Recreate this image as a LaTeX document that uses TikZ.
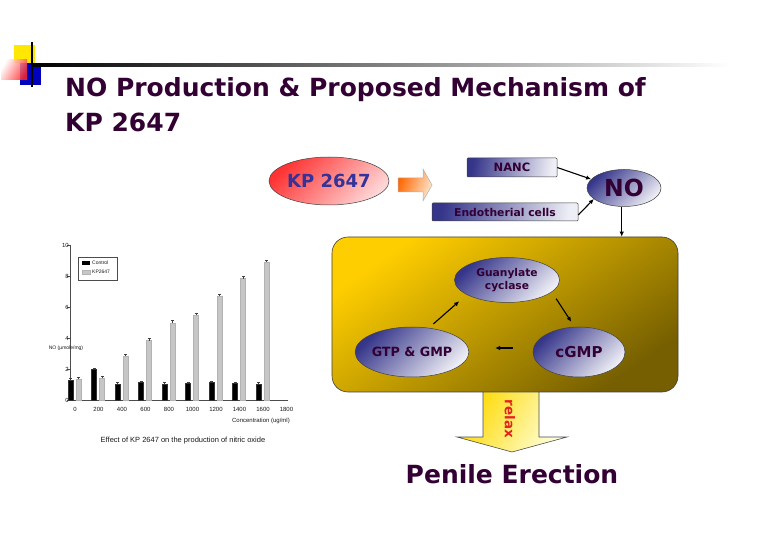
\documentclass[tikz,border=0pt]{standalone}
\usepackage{fontspec}
\setmainfont{DejaVu Sans}
\newfontfamily\chartfont{Liberation Sans}
\usepackage{xcolor}
\usetikzlibrary{arrows.meta,positioning,shapes.geometric}

\definecolor{titlepurple}{HTML}{330033}
\definecolor{kpblue}{HTML}{333399}
\definecolor{kpred}{HTML}{FF3333}
\definecolor{kppink}{HTML}{FFD6D6}
\definecolor{navy}{HTML}{35358A}
\definecolor{lavender}{HTML}{EEEEF6}
\definecolor{gold}{HTML}{FFCE00}
\definecolor{olive}{HTML}{765F00}
\definecolor{relaxred}{HTML}{E3241E}

\begin{document}
\begin{tikzpicture}[x=1pt,y=-1pt,
    title/.style={anchor=base west,inner sep=0pt,font=\bfseries\fontsize{25}{30}\selectfont,text=titlepurple},
    oval/.style={ellipse,draw=gray!50!black,line width=0.5pt,inner sep=0pt,left color=navy,right color=lavender,shading angle=45,text=titlepurple,align=center},
    label box/.style={rectangle,rounded corners=1pt,draw=gray!50!black,line width=0.5pt,inner sep=0pt,left color=navy,right color=lavender,shading angle=80,text=titlepurple,font=\bfseries\fontsize{10.8}{12}\selectfont},
    cellbox/.style={rectangle,rounded corners=16pt,draw=black!75,line width=0.6pt,minimum width=346pt,minimum height=155pt,left color=gold,middle color=gold!75!olive,right color=olive,shading angle=35},
    arrow/.style={-{Latex[length=5pt,width=4.5pt]},line width=1.1pt},
    charttext/.style={font=\chartfont\fontsize{6}{7}\selectfont,text=gray!20!black,inner sep=1pt}
]
    \useasboundingbox (0,0) rectangle (780,540);
    \fill[white] (0,0) rectangle (780,540);

    % Corner mark and rule
    \fill[yellow!90!orange] (14,45) rectangle (35,63);
    \fill[blue!75!black] (20,63) rectangle (41,85);
    \shade[left color=white,right color=red!85,shading angle=60,opacity=0.85] (1,60) rectangle (27,80);
    \shade[left color=black,right color=white] (32,63.5) rectangle (730,66.5);
    \draw[line width=1.2pt] (32,42) -- (32,87);

    % Title
    \node[title] (title1) at (65,97) {NO Production \& Proposed Mechanism of};
    \node[title] (title2) at (65,132) {KP 2647};

    % Nodes
    \node[oval,minimum width=120pt,minimum height=48pt,left color=kpred,right color=kppink,shading angle=45,text=kpblue,font=\bfseries\fontsize{18}{20}\selectfont] (kp) at (329,181) {KP 2647};
    \node[label box,minimum width=90pt,minimum height=19pt,font=\bfseries\fontsize{11.5}{13}\selectfont] (nanc) at (512,167.5) {NANC};
    \node[label box,minimum width=146pt,minimum height=18pt] (endo) at (505,212) {Endotherial cells};
    \node[oval,minimum width=74pt,minimum height=37pt,font=\bfseries\fontsize{23.5}{25}\selectfont] (no) at (624,188) {NO};

    \node[cellbox] (cell) at (505,314.5) {};
    \node[oval,minimum width=105pt,minimum height=45pt,font=\bfseries\fontsize{10.7}{12.5}\selectfont] (guan) at (507,280) {Guanylate\\cyclase};
    \node[oval,minimum width=90pt,minimum height=50pt,font=\bfseries\fontsize{12.7}{15}\selectfont] (gtp) at (412,352) {GTP \& GMP};
    \node[oval,minimum width=92pt,minimum height=50pt,font=\bfseries\fontsize{15}{17}\selectfont] (cgmp) at (579,352) {cGMP};

    % Block arrows
    \draw[draw=gray!60,line width=0.5pt,left color=orange!80!red,right color=orange!20,shading angle=70]
        (398,178) -- (423,178) -- (423,169) -- (432,185) -- (423,201) -- (423,192) -- (398,192) -- cycle;
    \draw[draw=black!70,line width=0.6pt,left color=yellow!70!orange,right color=yellow!15,shading angle=60]
        (483,392) -- (539,392) -- (539,437) -- (567,437) -- (512,452) -- (457,437) -- (483,437) -- cycle;
    \node[rotate=-90,text=relaxred,font=\bfseries\fontsize{13.5}{16}\selectfont] (relax) at (510,419) {relax};
    \node[anchor=base,text=titlepurple,font=\bfseries\fontsize{25}{30}\selectfont] (penile) at (512,483) {Penile Erection};

    % Arrows
    \draw[arrow] (nanc.east) -- (no.165);
    \draw[arrow] ([yshift=-3pt]endo.east) -- (no.200);
    \draw[arrow] (no.263) -- (no.263 |- cell.north);
    \draw[arrow,shorten <=6pt,shorten >=10pt] (gtp.55) -- (guan.200);
    \draw[arrow,shorten <=8pt,shorten >=6pt] (guan.345) -- (cgmp.100);
    \draw[arrow,shorten <=20pt,shorten >=26pt] ([yshift=4pt]cgmp.west) -- ([yshift=4pt]gtp.east);

    % Chart
    \draw[gray!60!black,line width=0.4pt] (70,245) -- (70,400) -- (288,400);
    \foreach \v in {0,2,...,10}
        \draw[gray!60!black,line width=0.4pt] (67,400-15.5*\v) -- (70,400-15.5*\v)
            node[charttext,anchor=east] (ytick\v) {\v};
    \foreach \t [count=\i from 0] in {0,200,400,600,800,1000,1200,1400,1600,1800}
        \node[charttext] (xtick\i) at (75+23.5*\i,409) {\t};
    \foreach \i/\vc/\vk in {0/1.29/1.33,1/1.98/1.40,2/1.03/2.84,3/1.12/3.83,4/1.03/4.99,5/1.07/5.48,6/1.14/6.71,7/1.07/7.83,8/1.03/8.92}{
        \pgfmathsetmacro{\cx}{75+23.5*\i}
        \filldraw[fill=black,draw=gray!40!black,line width=0.3pt] (\cx-7,400) rectangle (\cx-2,400-15.5*\vc);
        \filldraw[fill=gray!45,draw=gray!60,line width=0.3pt] (\cx+1,400) rectangle (\cx+6,400-15.5*\vk);
        \draw[gray!50!black,line width=0.4pt] (\cx+3.5,400-15.5*\vk) -- ++(0,-2) ++(-1.5,0) -- ++(3,0);
        \draw[gray!50!black,line width=0.4pt] (\cx-4.5,400-15.5*\vc) -- ++(0,-1.5) ++(-1.5,0) -- ++(3,0);
    }
    \draw[gray!60!black,line width=0.4pt] (78,257) rectangle (117,280);
    \fill[black] (82,261) rectangle (90,265);
    \filldraw[fill=gray!45,draw=gray!60,line width=0.3pt] (82,270) rectangle (90,274);
    \node[charttext,anchor=west,font=\chartfont\fontsize{5}{6}\selectfont] (legc) at (91,263) {Control};
    \node[charttext,anchor=west,font=\chartfont\fontsize{5}{6}\selectfont] (legk) at (91,272) {KP2647};
    \node[charttext,font=\chartfont\fontsize{5}{6}\selectfont] (ylabel) at (66,348) {NO (\textmu mole/mg)};
    \node[charttext,anchor=east] (xlabel) at (291,421) {Concentration (ug/ml)};
    \node[charttext,font=\chartfont\fontsize{7.5}{9}\selectfont] (caption) at (183,441) {Effect of KP 2647 on the production of nitric oxide};
\end{tikzpicture}
\end{document}
